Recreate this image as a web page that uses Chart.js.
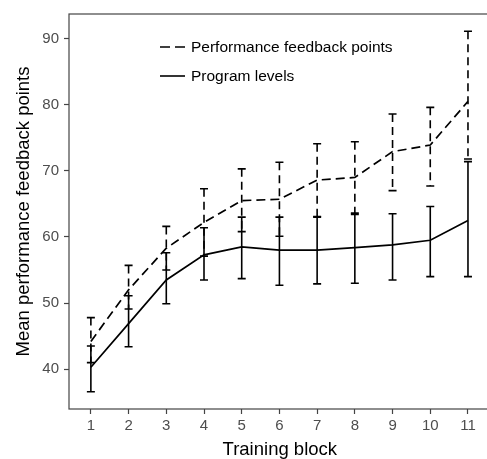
<!DOCTYPE html>
<html>
<head>
<meta charset="utf-8">
<script src="https://cdn.jsdelivr.net/npm/chart.js@4.4.0/dist/chart.umd.min.js"></script>
<style>
  html, body { margin: 0; padding: 0; overflow: hidden; background: #fff; }
  #wrap { position: relative; width: 495px; height: 459px; }
  .key { position: absolute; left: 160px; height: 20px; display: flex; align-items: center;
         font-family: "Liberation Sans", Arial, sans-serif; font-size: 15.5px; color: #000; }
  .key svg { margin-right: 6px; }
</style>
</head>
<body>
<div id="wrap">
  <canvas id="chart" width="495" height="459"></canvas>
  <div class="key" style="top:37px">
    <svg width="25" height="4"><line x1="0" y1="2" x2="25" y2="2" stroke="#000" stroke-width="1.6" stroke-dasharray="10 5"/></svg>
    <span>Performance feedback points</span>
  </div>
  <div class="key" style="top:66px">
    <svg width="25" height="4"><line x1="0" y1="2" x2="25" y2="2" stroke="#000" stroke-width="1.6"/></svg>
    <span>Program levels</span>
  </div>
</div>
<script>
// training blocks
var blocks = [1, 2, 3, 4, 5, 6, 7, 8, 9, 10, 11];

// performance feedback points (dashed)
var feedbackMean = [44.2, 52.0, 58.3, 62.2, 65.5, 65.7, 68.6, 69.0, 72.9, 73.9, 80.5];
var feedbackLow  = [41.0, 49.1, 55.0, 57.1, 60.8, 60.1, 63.1, 63.4, 67.0, 67.7, 71.8];
var feedbackHigh = [47.8, 55.7, 61.6, 67.3, 70.3, 71.3, 74.1, 74.4, 78.6, 79.6, 91.1];

// program levels (solid)
var levelMean = [40.3, 46.9, 53.5, 57.3, 58.5, 58.0, 58.0, 58.4, 58.8, 59.5, 62.5];
var levelLow  = [36.6, 43.4, 49.9, 53.5, 53.7, 52.7, 52.9, 53.0, 53.5, 54.0, 54.0];
var levelHigh = [43.5, 51.1, 57.6, 61.4, 63.0, 63.0, 63.0, 63.6, 63.5, 64.6, 71.4];

var yTicks = [40, 50, 60, 70, 80, 90];

function points(vals) {
    return blocks.map(function (b, i) { return {x: b, y: vals[i]}; });
}

var font = "'Liberation Sans', Arial, sans-serif";

// panel border
var frame = {
    id: 'frame',
    afterDraw: function (chart) {
        var a = chart.chartArea, ctx = chart.ctx;
        ctx.save();
        ctx.strokeStyle = '#444';
        ctx.lineWidth = 1.2;
        ctx.strokeRect(a.left, a.top, a.right - a.left, a.bottom - a.top);
        ctx.restore();
    }
};

// error bars, drawn with the chart's scales
var errorBars = {
    id: 'errorBars',
    afterDatasetsDraw: function (chart) {
        var ctx = chart.ctx, x = chart.scales.x, y = chart.scales.y;
        var sets = [[feedbackLow, feedbackHigh, [8, 5]], [levelLow, levelHigh, []]];
        ctx.save();
        ctx.strokeStyle = '#000';
        ctx.lineWidth = 1.6;
        sets.forEach(function (s) {
            blocks.forEach(function (b, i) {
                var px = x.getPixelForValue(b);
                var top = y.getPixelForValue(s[1][i]);
                var bot = y.getPixelForValue(s[0][i]);
                ctx.setLineDash(s[2]);
                ctx.beginPath();
                ctx.moveTo(px, top);
                ctx.lineTo(px, bot);
                ctx.stroke();
                ctx.setLineDash([]);
                ctx.beginPath();
                ctx.moveTo(px - 4, top); ctx.lineTo(px + 4, top);
                ctx.moveTo(px - 4, bot); ctx.lineTo(px + 4, bot);
                ctx.stroke();
            });
        });
        ctx.restore();
    }
};

new Chart(document.getElementById('chart'), {
    type: 'line',
    data: {
        datasets: [{
            label: 'Performance feedback points',
            data: points(feedbackMean),
            borderColor: '#000',
            borderWidth: 1.7,
            borderDash: [9, 5],
            pointRadius: 0,
            tension: 0
        }, {
            label: 'Program levels',
            data: points(levelMean),
            borderColor: '#000',
            borderWidth: 1.7,
            pointRadius: 0,
            tension: 0
        }]
    },
    options: {
        responsive: false,
        animation: false,
        layout: { padding: { top: 12, right: 4.4, left: 0, bottom: 0 } },
        plugins: {
            legend: { display: false },
            tooltip: { enabled: false }
        },
        scales: {
            x: {
                type: 'linear',
                min: 0.42,
                max: 11.6,
                afterFit: function (s) { s.height = 50; },
                border: { display: false },
                grid: { drawOnChartArea: false, drawTicks: true, tickLength: 5, tickColor: '#444', tickWidth: 1.2 },
                ticks: { stepSize: 1, includeBounds: false, padding: 3, color: '#4d4d4d', font: { family: font, size: 15 } },
                title: { display: true, text: 'Training block', color: '#000', padding: { top: 0, bottom: 0 },
                         font: { family: font, size: 18.5, lineHeight: 1 } }
            },
            y: {
                min: 33.98,
                max: 93.72,
                afterFit: function (s) { s.width = 69; },
                afterBuildTicks: function (s) { s.ticks = yTicks.map(function (v) { return {value: v}; }); },
                border: { display: false },
                grid: { drawOnChartArea: false, drawTicks: true, tickLength: 5, tickColor: '#444', tickWidth: 1.2 },
                ticks: { padding: 5, color: '#4d4d4d', font: { family: font, size: 15 } },
                title: { display: true, text: 'Mean performance feedback points', color: '#000', padding: { top: 15, bottom: 0 },
                         font: { family: font, size: 18.5, lineHeight: 1 } }
            }
        }
    },
    plugins: [frame, errorBars]
});
</script>
</body>
</html>
